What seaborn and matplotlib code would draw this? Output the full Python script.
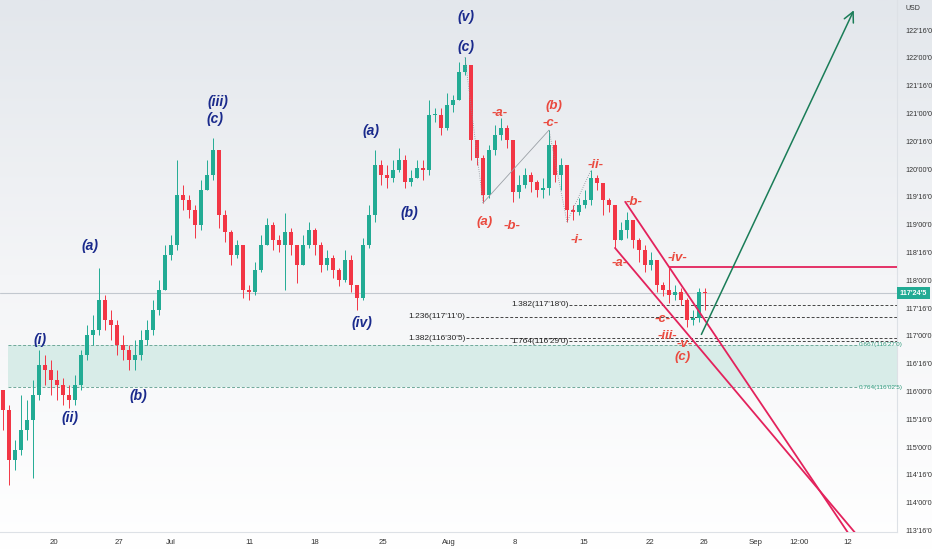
import numpy as np
import pandas as pd
import matplotlib
matplotlib.use("Agg")
import matplotlib.pyplot as plt
from matplotlib.colors import LinearSegmentedColormap
import seaborn as sns

# price bars (bond futures, points), open of each bar = previous close
first_open = 116.03
closes = [115.67, 114.77, 114.95, 115.31, 115.49, 115.94, 116.47, 116.39, 116.21, 116.12,
          115.94, 115.85, 116.12, 116.65, 117.01, 117.10, 117.64, 117.28, 117.20, 116.83,
          116.74, 116.57, 116.65, 116.92, 117.10, 117.46, 117.82, 118.45, 118.63, 119.53,
          119.44, 119.26, 118.99, 119.62, 119.89, 120.34, 119.17, 118.87, 118.45, 118.63,
          117.82, 117.79, 118.18, 118.63, 118.99, 118.72, 118.63, 118.87, 118.63, 118.27,
          118.63, 118.90, 118.63, 118.27, 118.40, 118.18, 118.00, 118.36, 117.91, 117.68,
          118.63, 119.17, 120.07, 119.89, 119.84, 119.98, 120.16, 119.77, 119.84, 120.02,
          119.98, 120.97, 120.97, 120.74, 121.15, 121.24, 121.75, 121.87, 120.52, 120.20,
          119.53, 120.34, 120.61, 120.74, 120.52, 119.59, 119.71, 119.89, 119.77, 119.62,
          119.66, 120.43, 119.89, 120.07, 119.26, 119.23, 119.35, 119.44, 119.84, 119.75,
          119.44, 119.35, 118.72, 118.90, 119.08, 118.72, 118.54, 118.27, 118.36, 117.91,
          117.82, 117.73, 117.79, 117.64, 117.28, 117.32, 117.79, 117.77]
highs = [116.03, 115.76, 115.13, 115.94, 115.85, 116.21, 116.74, 116.65, 116.57, 116.39,
         116.24, 116.12, 116.30, 116.74, 117.20, 117.37, 118.22, 117.73, 117.46, 117.28,
         117.01, 116.83, 116.92, 117.10, 117.28, 117.64, 118.00, 118.63, 118.81, 120.16,
         119.71, 119.53, 119.35, 119.80, 120.16, 120.56, 120.34, 119.26, 118.90, 118.72,
         118.54, 117.91, 118.33, 118.81, 119.12, 119.05, 118.81, 119.21, 118.94, 118.63,
         118.81, 119.05, 118.94, 118.69, 118.54, 118.45, 118.22, 118.54, 118.45, 117.91,
         118.76, 119.35, 120.34, 120.16, 120.07, 120.16, 120.38, 120.25, 119.98, 120.16,
         120.16, 121.24, 121.10, 121.10, 121.37, 121.33, 121.92, 122.01, 121.87, 120.52,
         120.25, 120.43, 120.79, 120.92, 120.79, 120.52, 119.89, 120.02, 119.95, 119.80,
         119.84, 120.70, 120.52, 120.20, 120.07, 119.35, 119.48, 119.62, 119.98, 119.89,
         119.71, 119.48, 119.35, 119.05, 119.23, 118.99, 118.76, 118.63, 118.51, 118.36,
         117.97, 118.24, 117.91, 117.86, 117.68, 117.46, 117.86, 117.86]
lows = [115.31, 114.32, 114.59, 114.86, 115.13, 114.44, 115.85, 116.12, 115.94, 115.85,
        115.76, 115.70, 115.76, 116.03, 116.57, 116.83, 117.01, 117.10, 116.92, 116.65,
        116.57, 116.39, 116.39, 116.57, 116.83, 117.01, 117.37, 117.82, 118.36, 118.54,
        119.26, 119.12, 118.76, 118.90, 119.71, 119.80, 118.94, 118.69, 118.27, 118.40,
        117.68, 117.64, 117.73, 118.15, 118.63, 118.54, 118.51, 117.82, 118.45, 117.95,
        118.27, 118.58, 118.45, 118.15, 118.18, 118.04, 117.90, 117.97, 117.79, 117.46,
        117.64, 118.58, 119.05, 119.71, 119.66, 119.77, 119.95, 119.66, 119.69, 119.84,
        119.80, 119.89, 120.85, 120.61, 120.70, 121.03, 121.39, 121.69, 120.16, 120.07,
        119.39, 119.48, 120.25, 120.52, 120.38, 119.41, 119.48, 119.66, 119.59, 119.50,
        119.48, 119.53, 119.77, 119.62, 119.05, 119.08, 119.17, 119.30, 119.35, 119.62,
        119.17, 119.23, 118.58, 118.72, 118.76, 118.58, 118.33, 118.15, 118.18, 117.79,
        117.71, 117.59, 117.64, 117.55, 117.16, 117.20, 117.25, 117.46]

last_price = 117.765625

date_labels = ["20", "27", "Jul", "11", "18", "25", "Aug", "8", "15", "22", "26",
               "Sep", "12:00", "12"]
date_pos = [8.5, 19.3, 28.0, 41.0, 52.0, 63.3, 74.3, 85.3, 96.7, 107.8, 116.8,
            125.5, 132.7, 140.8]
price_ticks = [113.5, 114.0, 114.5, 115.0, 115.5, 116.0, 116.5, 117.0, 117.5, 118.0,
               118.5, 119.0, 119.5, 120.0, 120.5, 121.0, 121.5, 122.0, 122.5]

# fibonacci extension levels
fib_ratio = ["1.382", "1.236", "1.382", "1.764"]
fib_price = [117.5625, 117.34375, 116.953125, 116.90625]
fib_label_bar = [84.8, 67.6, 67.6, 84.8]

# retracement zone
zone_ratio = ["0.667", "0.764"]
zone_price = [116.84375, 116.078125]

# wave counts
blue_text = ["(i)", "(ii)", "(a)", "(b)", "(iii)", "(c)", "(iv)", "(a)", "(b)", "(v)", "(c)"]
blue_bar = [6.2, 11.2, 14.5, 22.5, 35.8, 35.4, 59.8, 61.3, 67.8, 77.2, 77.2]
blue_price = [116.92, 115.52, 118.62, 115.92, 121.21, 120.90, 117.23, 120.68, 119.21, 122.73, 122.19]

red_text = ["(a)", "-a-", "-b-", "(b)", "-c-", "-i-", "-ii-", "-b-", "-a-", "-iv-",
            "-c-", "-iii-", "-v-", "(c)"]
red_bar = [80.3, 82.8, 84.8, 91.8, 91.3, 95.7, 98.7, 105.2, 102.8, 112.5,
           110.0, 110.7, 113.7, 113.2]
red_price = [119.05, 121.01, 118.97, 121.13, 120.83, 118.72, 120.07, 119.41, 118.31, 118.40,
             117.30, 116.99, 116.85, 116.62]

# sub-wave connectors (bar, price)
conn_bar = [77, 80, 91, 94, 98]
conn_price = [122.01, 119.39, 120.70, 119.05, 119.98]

# channel anchors
upper_bar, upper_price = [103.7, 111.0], [119.41, 118.24]
lower_bar, lower_price = [102.0, 114.5], [118.58, 116.98]
target_bar, target_price = [116.2, 142.0], [116.98, 122.90]

UP = "#22ab94"
DOWN = "#f23645"
PINK = "#e3225c"
NAVY = "#1a2a8c"
RED = "#ea4a3f"


def fmt32(p):
    tot = int(round(p * 320))
    whole, rem = divmod(tot, 320)
    return f"{whole}'{rem // 10:02d}'{rem % 10}"


sns.set_theme(style="white")
plt.rcParams['font.family'] = ['Liberation Sans', 'DejaVu Sans']

fig = plt.figure(figsize=(9.32, 5.5), dpi=100)

bg = fig.add_axes([0, 0, 1, 1], zorder=-1)
cmap = LinearSegmentedColormap.from_list("bg", ["#e3e7ec", "#f4f5f7", "#ffffff"])
bg.imshow(np.linspace(0, 1, 256).reshape(-1, 1), aspect="auto", cmap=cmap, extent=[0, 1, 0, 1])
bg.axis("off")

ax = fig.add_axes([0, 18 / 550, 897 / 932, 532 / 550])
ax.set_facecolor("none")

# zone
ax.axhspan(zone_price[1], zone_price[0], xmin=0.0085, xmax=1, color="#bfe3da", alpha=0.55, lw=0, zorder=1)
for r, p in zip(zone_ratio, zone_price):
    ax.hlines(p, 0.8, 142.3, colors="#6fa899", linestyles=(0, (3, 2)), lw=0.7, zorder=1)
    ax.text(142.6, p, f"{r}({fmt32(p)})", fontsize=4.6, color="#2f9a7c", va="center", ha="left")

# last price line
ax.axhline(last_price, color="#c2c8cf", lw=0.8, zorder=1)

# fib levels
for r, p, xb in zip(fib_ratio, fib_price, fib_label_bar):
    ax.text(xb, p, f"{r}({fmt32(p)})", fontsize=6, color="#222", va="center", ha="left", zorder=5)
    ax.hlines(p, xb + 9.6, 149.0, colors="#444", linestyles=(0, (3, 2)), lw=0.7, zorder=2)

# candles
df = pd.DataFrame({"close": closes, "high": highs, "low": lows})
df["open"] = [first_open] + closes[:-1]
df["bar"] = np.arange(len(df))
col = np.where(df.close >= df.open, UP, DOWN)
top = df[["high", "open", "close"]].max(axis=1)
bot = df[["low", "open", "close"]].min(axis=1)
ax.vlines(df.bar, bot, top, colors=col, lw=0.7, zorder=3)
body = (df.close - df.open).abs().clip(lower=0.015)
ax.bar(df.bar, body, bottom=df[["open", "close"]].min(axis=1), width=0.55, color=col, lw=0, zorder=3)

# wave connectors
sns.lineplot(x=conn_bar[:2], y=conn_price[:2], ax=ax, color="#8a8f96", lw=0.6, linestyle=":", zorder=4)
sns.lineplot(x=conn_bar[1:3], y=conn_price[1:3], ax=ax, color="#9aa0a6", lw=0.6, zorder=4)
sns.lineplot(x=conn_bar[2:4], y=conn_price[2:4], ax=ax, color="#8a8f96", lw=0.6, linestyle=":", zorder=4)
sns.lineplot(x=conn_bar[3:5], y=conn_price[3:5], ax=ax, color="#8a8f96", lw=0.6, linestyle=":", zorder=4)


def extend(bx, py, x_end):
    k = (py[1] - py[0]) / (bx[1] - bx[0])
    return [bx[0], x_end], [py[0], py[0] + k * (x_end - bx[0])]


for bx, py in [(upper_bar, upper_price), (lower_bar, lower_price)]:
    xs, ys = extend(bx, py, 160)
    ax.plot(xs, ys, color=PINK, lw=1.3, zorder=4)

ax.hlines(df.high[111], 111, 149.0, colors=PINK, lw=1.3, zorder=4)

ax.annotate("", xy=(target_bar[1], target_price[1]), xytext=(target_bar[0], target_price[0]),
            arrowprops=dict(arrowstyle="->,head_length=0.6,head_width=0.3", color="#1a7d58", lw=1.1),
            zorder=4)

for t, b, p in zip(blue_text, blue_bar, blue_price):
    ax.text(b, p, t, color=NAVY, fontsize=10, fontweight="bold", fontstyle="italic",
            ha="center", va="center", zorder=6)
for t, b, p in zip(red_text, red_bar, red_price):
    ax.text(b, p, t, color=RED, fontsize=9.5, fontweight="bold", fontstyle="italic",
            ha="center", va="center", zorder=6)

# axes styling
ax.yaxis.tick_right()
ax.set_yticks(price_ticks)
ax.set_yticklabels([fmt32(p) for p in price_ticks])
ax.tick_params(axis="y", length=0, pad=6, labelsize=5.2, colors="#333")
ax.set_xticks(date_pos)
ax.set_xticklabels(date_labels)
ax.tick_params(axis="x", length=0, pad=5, labelsize=5.6, colors="#333")
ax.grid(False)
for s in ["top", "left"]:
    ax.spines[s].set_visible(False)
ax.spines["right"].set_color("#dde1e6")
ax.spines["bottom"].set_color("#dde1e6")
ax.spines["right"].set_linewidth(0.8)
ax.spines["bottom"].set_linewidth(0.8)

ax.set_xlim(-0.5, 149.0)
ax.set_ylim(123.04 - 532 / 55.6, 123.04)

ax.annotate(fmt32(last_price), xy=(1.0, last_price), xycoords=("axes fraction", "data"),
            xytext=(2, 0), textcoords="offset points", ha="left", va="center",
            fontsize=5.2, color="white", fontweight="bold",
            bbox=dict(boxstyle="square,pad=0.35", fc="#22ab94", ec="none"))

fig.text(905 / 932, 1 - 9 / 550, "USD", fontsize=5, color="#333", ha="left", va="center")

fig.savefig("out.png", dpi=100)
